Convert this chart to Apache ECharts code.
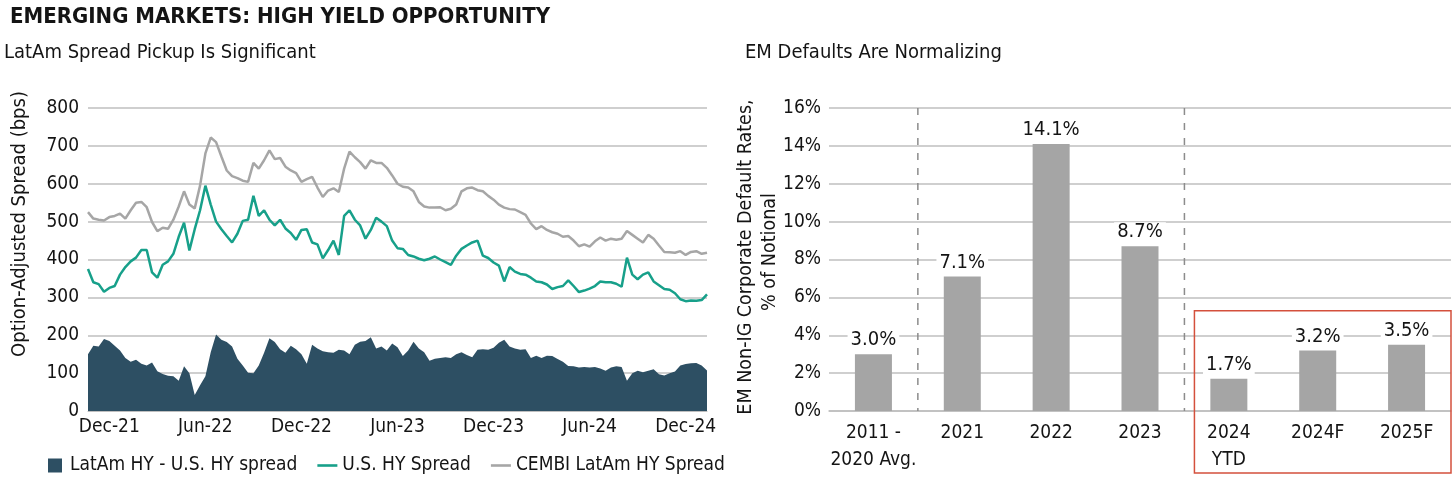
<!DOCTYPE html>
<html><head><meta charset="utf-8">
<script src="https://cdn.jsdelivr.net/npm/echarts@6/dist/echarts.min.js"></script>
<style>html,body{margin:0;padding:0;background:#fff}#c{width:1456px;height:484px}</style>
</head><body><div id="c"></div>
<script>
// ---------- Left chart data (approx. every ~10 days, mid-Oct 2021 .. Jan 2025) ----------
const cembiLatAmHY = [
 525,508,505,503,512,515,521,508,530,550,552,538,499,475,484,481,505,540,580,545,535,595,680,722,710,672,635,620,615,608,
 605,655,640,662,688,665,668,645,635,628,605,612,618,590,565,582,588,578,640,685,670,657,640,662,655,655,642,622,600,
 592,590,580,552,540,537,537,538,530,534,545,580,588,590,583,580,568,558,545,537,533,532,525,518,495,480,488,478,472,468,
 460,462,450,435,440,434,448,458,450,455,452,455,475,465,455,445,465,455,437,420,419,418,422,412,420,422,415,418
];
const usHY = [
 375,340,335,315,325,330,360,380,395,405,425,425,366,352,386,395,415,460,497,424,480,530,595,545,500,480,462,445,468,502,
 505,568,515,530,505,490,505,482,470,452,478,480,445,440,403,425,450,412,515,530,505,490,455,478,510,500,488,450,430,
 428,412,408,402,398,402,408,400,393,386,410,428,437,445,450,410,404,392,384,342,380,368,362,360,352,342,340,334,322,327,
 330,345,330,314,318,323,330,342,340,340,336,328,405,360,348,360,366,342,332,322,320,311,295,290,292,291,293,308
];
const latamMinusUS = [
 150,172,170,190,185,172,160,140,130,135,125,120,128,105,98,93,92,80,118,100,42,68,92,155,202,188,182,170,138,120,
 101,100,120,154,192,182,163,154,172,163,150,125,175,165,158,155,154,162,160,150,175,183,185,195,165,170,160,178,168,
 145,160,183,165,155,133,138,140,142,140,150,155,148,142,162,163,162,167,180,188,170,165,162,163,140,146,140,146,145,137,
 130,119,118,115,116,115,116,112,106,115,118,116,80,100,106,102,106,110,97,94,100,104,120,124,126,127,120,107
];
const dateTickLabels = ['Dec-21','Jun-22','Dec-22','Jun-23','Dec-23','Jun-24','Dec-24'];
const dateTickIndex  = [4, 22, 40, 58, 76, 94, 112];
const spreadTicks = [0, 100, 200, 300, 400, 500, 600, 700, 800];

// ---------- Right chart data ----------
const defaultCats = ['2011 -\n2020 Avg.', '2021', '2022', '2023', '2024\nYTD', '2024F', '2025F'];
const defaultRates = [3.0, 7.1, 14.1, 8.7, 1.7, 3.2, 3.5];
const rateTicks = [0, 2, 4, 6, 8, 10, 12, 14, 16];

const seriesNames = ['LatAm HY - U.S. HY spread', 'U.S. HY Spread', 'CEMBI LatAm HY Spread'];

const FONT = '"DejaVu Sans Condensed","Liberation Sans Narrow",sans-serif';
const TXT = '#141414';
const GRID = '#bfbfbf';
const C_AREA = '#2d4f63', C_TEAL = '#17a08a', C_GRAY = '#a6a6a6', C_BAR = '#a5a5a5';

const categories = cembiLatAmHY.map((_, i) => {
  const k = dateTickIndex.indexOf(i);
  return k >= 0 ? dateTickLabels[k] : '';
});

const chart = echarts.init(document.getElementById('c'), null, {renderer: 'canvas'});
const LINE_ICON = 'path://M0,0H20V2.6H0Z';

const option = {
  animation: false,
  backgroundColor: '#fff',
  textStyle: {fontFamily: FONT},
  grid: [
    {left: 88, top: 108, width: 619, height: 303},
    {left: 829, top: 108, width: 622, height: 303}
  ],
  legend: {
    left: 43, top: 451, itemWidth: 20, itemHeight: 14, itemGap: 20,
    textStyle: {fontFamily: FONT, fontSize: 19, color: TXT},
    data: [
      {name: seriesNames[0], icon: 'path://M0,0H14V14H0Z'},
      {name: seriesNames[1], icon: LINE_ICON},
      {name: seriesNames[2], icon: LINE_ICON}
    ]
  },
  xAxis: [
    {
      type: 'category', gridIndex: 0, data: categories, boundaryGap: false,
      axisLine: {show: true, lineStyle: {color: GRID}},
      axisTick: {show: false},
      axisLabel: {
        interval: (idx) => dateTickIndex.indexOf(idx) >= 0,
        fontFamily: FONT, fontSize: 19, color: TXT, margin: 7
      },
      splitLine: {show: false}
    },
    {
      type: 'category', gridIndex: 1, data: defaultCats,
      axisLine: {show: true, lineStyle: {color: GRID, width: 1.5}},
      axisTick: {show: false},
      axisLabel: {interval: 0, fontFamily: FONT, fontSize: 19, color: TXT, margin: 9, lineHeight: 27}
    }
  ],
  yAxis: [
    {
      type: 'value', gridIndex: 0, min: spreadTicks[0], max: spreadTicks[spreadTicks.length - 1], interval: 100,
      axisLine: {show: false}, axisTick: {show: false},
      axisLabel: {fontFamily: FONT, fontSize: 19, color: TXT, margin: 9},
      splitLine: {lineStyle: {color: GRID, width: 1.5}}
    },
    {
      type: 'value', gridIndex: 1, min: rateTicks[0], max: rateTicks[rateTicks.length - 1], interval: 2,
      axisLine: {show: false}, axisTick: {show: false},
      axisLabel: {fontFamily: FONT, fontSize: 19, color: TXT, margin: 8, formatter: '{value}%'},
      splitLine: {lineStyle: {color: GRID, width: 1.5}}
    }
  ],
  series: [
    {
      name: seriesNames[0], type: 'line', xAxisIndex: 0, yAxisIndex: 0, data: latamMinusUS,
      symbol: 'none', lineStyle: {width: 0, color: C_AREA}, itemStyle: {color: C_AREA},
      areaStyle: {color: C_AREA, opacity: 1}, z: 2
    },
    {
      name: seriesNames[1], type: 'line', xAxisIndex: 0, yAxisIndex: 0, data: usHY,
      symbol: 'none', lineStyle: {width: 2.5, color: C_TEAL}, itemStyle: {color: C_TEAL}, z: 3
    },
    {
      name: seriesNames[2], type: 'line', xAxisIndex: 0, yAxisIndex: 0, data: cembiLatAmHY,
      symbol: 'none', lineStyle: {width: 2.5, color: C_GRAY}, itemStyle: {color: C_GRAY}, z: 3
    },
    {
      name: 'EM defaults', type: 'bar', xAxisIndex: 1, yAxisIndex: 1, data: defaultRates,
      barWidth: 37, itemStyle: {color: C_BAR},
      label: {
        show: true, position: 'top', distance: 4, fontFamily: FONT, fontSize: 20, color: TXT,
        backgroundColor: '#fff', padding: [0, 3, 0, 3],
        formatter: (p) => p.value.toFixed(1) + '%'
      }
    }
  ],
  graphic: [
    {type: 'text', left: 10, top: 6, style: {text: 'EMERGING MARKETS: HIGH YIELD OPPORTUNITY', fontFamily: FONT, fontWeight: 'bold', fontSize: 22, fill: TXT}},
    {type: 'text', left: 4, top: 43, style: {text: 'LatAm Spread Pickup Is Significant', fontFamily: FONT, fontSize: 20, fill: TXT}},
    {type: 'text', left: 745, top: 43, style: {text: 'EM Defaults Are Normalizing', fontFamily: FONT, fontSize: 20, fill: TXT}},
    {type: 'text', x: 20, y: 224, rotation: Math.PI / 2, style: {text: 'Option-Adjusted Spread (bps)', fontFamily: FONT, fontSize: 20, fill: TXT, align: 'center', verticalAlign: 'middle'}},
    {type: 'text', x: 746, y: 257, rotation: Math.PI / 2, style: {text: 'EM Non-IG Corporate Default Rates,', fontFamily: FONT, fontSize: 19.5, fill: TXT, align: 'center', verticalAlign: 'middle'}},
    {type: 'text', x: 770, y: 252, rotation: Math.PI / 2, style: {text: '% of Notional', fontFamily: FONT, fontSize: 19.5, fill: TXT, align: 'center', verticalAlign: 'middle'}}
  ]
};
chart.setOption(option);

// annotation: dashed separators and red highlight box, placed from the axis scales
const cx = (i) => chart.convertToPixel({xAxisIndex: 1}, i);
const yTop = chart.convertToPixel({yAxisIndex: 1}, 16);
const yZero = chart.convertToPixel({yAxisIndex: 1}, 0);
const sep1 = (cx(0) + cx(1)) / 2;
const sep2 = (cx(3) + cx(4)) / 2;
const boxTop = chart.convertToPixel({yAxisIndex: 1}, 5.3);
const extra = [
  {type: 'line', shape: {x1: sep1, y1: yTop, x2: sep1, y2: yZero}, style: {stroke: '#8c8c8c', lineWidth: 1.5, lineDash: [7, 8]}, z: 1},
  {type: 'line', shape: {x1: sep2, y1: yTop, x2: sep2, y2: yZero}, style: {stroke: '#8c8c8c', lineWidth: 1.5, lineDash: [7, 8]}, z: 1},
  {type: 'rect', shape: {x: sep2 + 10, y: boxTop, width: 1451 - (sep2 + 10), height: 473 - boxTop}, style: {fill: 'none', stroke: '#d4503c', lineWidth: 1.5}, z: 10}
];
chart.setOption({graphic: option.graphic.concat(extra)});
</script>
</body></html>
